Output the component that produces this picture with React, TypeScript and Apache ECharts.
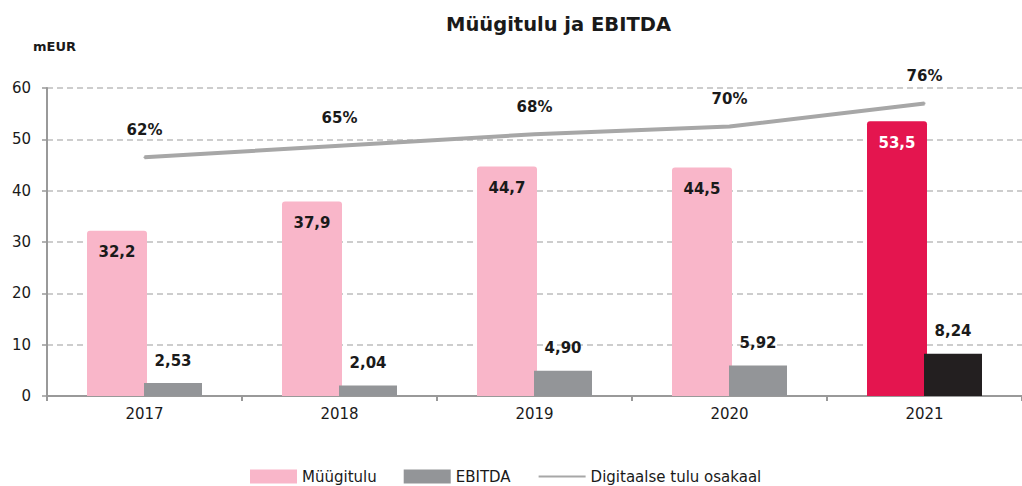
import React, { useEffect, useRef } from "react";
import * as echarts from "echarts";

const categories = ["2017", "2018", "2019", "2020", "2021"];
const revenue = [32.2, 37.9, 44.7, 44.5, 53.5];
const ebitda = [2.53, 2.04, 4.9, 5.92, 8.24];
const digitalShare = [62, 65, 68, 70, 76];
const yTicks = [0, 10, 20, 30, 40, 50, 60];

const FONT = "DejaVu Sans";

export default function App() {
  const ref = useRef<HTMLDivElement>(null);
  useEffect(() => {
    document.body.style.margin = "0";
    const chart = echarts.init(ref.current!, null, { renderer: "svg" });
    const fmt1 = (v: number) => v.toFixed(1).replace(".", ",");
    const fmt2 = (v: number) => v.toFixed(2).replace(".", ",");
    chart.setOption({
      animation: false,
      textStyle: { fontFamily: FONT },
      title: {
        text: "Müügitulu ja EBITDA",
        left: 441,
        top: 9,
        textStyle: { fontFamily: FONT, fontSize: 19.5, fontWeight: "bold", color: "#1a1a1a" },
      },
      graphic: [
        {
          type: "text",
          left: 33,
          top: 40,
          style: { text: "mEUR", fontFamily: FONT, fontSize: 13, fontWeight: "bold", fill: "#1a1a1a" },
        },
      ],
      legend: {
        left: 245,
        top: 464,
        itemWidth: 47,
        itemHeight: 14,
        itemGap: 27,
        textStyle: { fontFamily: FONT, fontSize: 15, color: "#1a1a1a" },
        data: [
          { name: "Müügitulu", icon: "rect", itemStyle: { color: "#F9B6C9" } },
          { name: "EBITDA", icon: "rect", itemStyle: { color: "#939598" } },
          { name: "Digitaalse tulu osakaal", itemStyle: { opacity: 0 } },
        ],
      },
      grid: { left: 47, right: -9, top: 88, bottom: 90, containLabel: false },
      xAxis: {
        type: "category",
        data: categories,
        axisLine: { lineStyle: { color: "#999", width: 2 } },
        axisTick: { show: true, length: 5, lineStyle: { color: "#999", width: 2 } },
        axisLabel: { fontFamily: FONT, fontSize: 15, color: "#1a1a1a", margin: 10 },
      },
      yAxis: [
        {
          type: "value",
          min: yTicks[0],
          max: yTicks[yTicks.length - 1],
          interval: 10,
          axisLine: { show: true, lineStyle: { color: "#999", width: 2 } },
          axisTick: { show: true, length: 5, lineStyle: { color: "#999", width: 1.5 } },
          axisLabel: { fontFamily: FONT, fontSize: 15, color: "#1a1a1a", margin: 16 },
          splitLine: { lineStyle: { color: "#bdbdbd", type: [6, 4], width: 1.5 } },
        },
        {
          type: "value",
          min: 0,
          max: 80,
          show: false,
          splitLine: { show: false },
        },
      ],
      series: [
        {
          name: "Müügitulu",
          type: "bar",
          barWidth: 60,
          barGap: "-5%",
          data: revenue.map((v, i) => ({
            value: v,
            itemStyle: { color: i === 4 ? "#E4154F" : "#F9B6C9", borderRadius: [3, 3, 0, 0] },
            label: { color: i === 4 ? "#ffffff" : "#1a1a1a" },
          })),
          label: {
            show: true,
            position: "insideTop",
            distance: 14,
            fontFamily: FONT,
            fontSize: 15,
            fontWeight: "bold",
            formatter: (p: any) => fmt1(p.value),
          },
          z: 2,
        },
        {
          name: "EBITDA",
          type: "bar",
          barWidth: 58,
          data: ebitda.map((v, i) => ({
            value: v,
            itemStyle: { color: i === 4 ? "#231F20" : "#939598" },
          })),
          label: {
            show: true,
            position: "top",
            distance: 15,
            fontFamily: FONT,
            fontSize: 15,
            fontWeight: "bold",
            color: "#1a1a1a",
            formatter: (p: any) => fmt2(p.value),
          },
          z: 3,
        },
        {
          name: "Digitaalse tulu osakaal",
          type: "line",
          yAxisIndex: 1,
          data: digitalShare,
          symbol: "circle",
          symbolSize: 2,
          showSymbol: true,
          lineStyle: { color: "#A7A7A7", width: 4 },
          itemStyle: { color: "#A7A7A7" },
          label: {
            show: true,
            position: "top",
            distance: 19,
            fontFamily: FONT,
            fontSize: 15,
            fontWeight: "bold",
            color: "#1a1a1a",
            formatter: (p: any) => p.value + "%",
          },
          z: 4,
        },
      ],
    });
    return () => chart.dispose();
  }, []);
  return <div ref={ref} style={{ width: 1022, height: 486 }} />;
}
